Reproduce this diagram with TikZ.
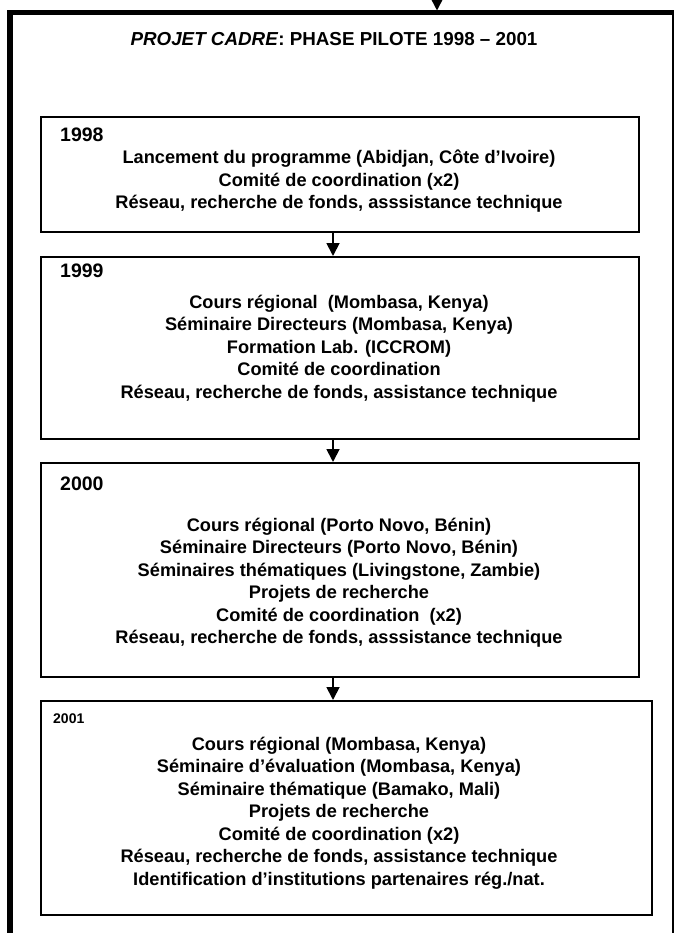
\documentclass[tikz,border=0pt]{standalone}
\usepackage{fontspec}
\setmainfont{Liberation Sans}
\usetikzlibrary{arrows.meta}
\begin{document}
\begin{tikzpicture}[x=1pt,y=-1pt,
  boxx/.style={draw,line width=1.8pt,inner sep=0pt,anchor=north west},
  txt/.style={font=\fontsize{18.2}{22}\selectfont\bfseries,inner sep=0pt,anchor=base},
  yr/.style={font=\fontsize{19.5}{22}\selectfont\bfseries,inner sep=0pt,anchor=base west},
  arr/.style={line width=1.8pt,-{Triangle[length=13pt,width=13pt]}}]
\useasboundingbox (0,0) rectangle (674,933);
% outer frame
\draw[line width=6pt] (10,933) -- (10,10);
\draw[line width=5pt] (7,12.5) -- (674,12.5);
\draw[line width=1.2pt] (673,12.5) -- (673,933);
\coordinate (topin) at (437,0);
\coordinate (topend) at (437,10.5);
\draw[arr] (topin) -- (topend);
% title
\node[txt,font=\fontsize{18.8}{22}\selectfont\bfseries] (title) at (334,46) {\textit{PROJET CADRE}: PHASE PILOTE 1998 -- 2001};
% boxes
\node[boxx,minimum width=598pt,minimum height=115pt] (b1) at (40,116) {};
\node[boxx,minimum width=598pt,minimum height=182pt] (b2) at (40,256) {};
\node[boxx,minimum width=598pt,minimum height=214pt] (b3) at (40,462) {};
\node[boxx,minimum width=611pt,minimum height=214pt] (b4) at (40,700) {};
% arrows
\coordinate (ax) at (333,0);
\draw[arr] (b1.south -| ax) -- (b2.north -| ax);
\draw[arr] (b2.south -| ax) -- (b3.north -| ax);
\draw[arr] (b3.south -| ax) -- (b4.north -| ax);
% years
\node[yr] (y1) at (60,142) {1998};
\node[yr] (y2) at (60,277) {1999};
\node[yr] (y3) at (60,490) {2000};
\node[yr,font=\fontsize{14}{16}\selectfont\bfseries] (y4) at (53,723) {2001};
% box texts
\foreach \t [count=\i] in {{Lancement du programme (Abidjan, Côte d’Ivoire)},{Comité de coordination (x2)},{Réseau, recherche de fonds, asssistance technique}}
  \node[txt] (a\i) at (339,164+22.5*\i-22.5) {\t};
\foreach \t [count=\i] in {{Cours régional\ \ (Mombasa, Kenya)},{Séminaire Directeurs (Mombasa, Kenya)},{Formation Lab. (ICCROM)},{Comité de coordination},{Réseau, recherche de fonds, assistance technique}}
  \node[txt] (c\i) at (339,308+22.5*\i-22.5) {\t};
\foreach \t [count=\i] in {{Cours régional (Porto Novo, Bénin)},{Séminaire Directeurs (Porto Novo, Bénin)},{Séminaires thématiques (Livingstone, Zambie)},{Projets de recherche},{Comité de coordination\ \ (x2)},{Réseau, recherche de fonds, asssistance technique}}
  \node[txt] (d\i) at (339,531+22.5*\i-22.5) {\t};
\foreach \t [count=\i] in {{Cours régional (Mombasa, Kenya)},{Séminaire d’évaluation (Mombasa, Kenya)},{Séminaire thématique (Bamako, Mali)},{Projets de recherche},{Comité de coordination (x2)},{Réseau, recherche de fonds, assistance technique},{Identification d’institutions partenaires rég./nat.}}
  \node[txt] (e\i) at (339,750+22.5*\i-22.5) {\t};
\end{tikzpicture}
\end{document}
